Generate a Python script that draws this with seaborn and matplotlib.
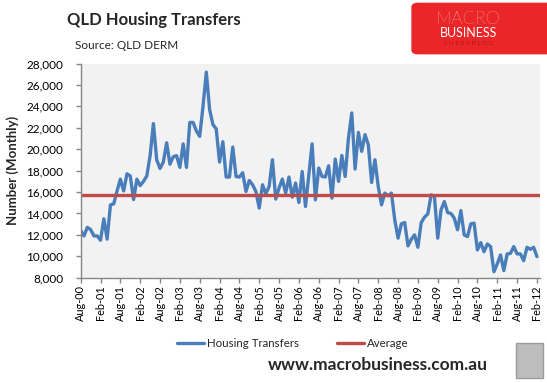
import numpy as np
import pandas as pd
import matplotlib
matplotlib.use('Agg')
import matplotlib.pyplot as plt
import seaborn as sns
from matplotlib.patches import Rectangle, FancyBboxPatch
from matplotlib.lines import Line2D

# Monthly housing transfers, Aug-00 .. Feb-12
transfers = [
    12400, 11900, 12700, 12500, 11900, 11900, 11500, 13500, 11600, 14800,
    14900, 16100, 17200, 16100, 17700, 17500, 15300, 17200, 16600, 17000,
    17500, 19400, 22400, 19000, 18200, 18800, 20600, 18600, 19300, 19400,
    18300, 20500, 18300, 22500, 22500, 21700, 21200, 24000, 27200, 23700,
    22300, 21900, 18800, 20700, 17400, 17400, 20200, 17450, 17400, 17800,
    16050, 17080, 16680, 16050, 14500, 16680, 15830, 16520, 19020, 15340,
    16370, 17210, 15900, 17400, 15520, 16840, 15020, 17920, 14650, 17600,
    20500, 15270, 18240, 17450, 17400, 18450, 15430, 19080, 17000, 19420,
    17450, 21050, 23390, 18150, 21570, 19800, 21360, 20420, 16890, 19020,
    16520, 14800, 15900, 15650, 15900, 13400, 11690, 13030, 13150, 10970,
    11590, 12000, 10840, 13150, 13650, 13960, 15740, 15600, 11690, 14340,
    15110, 14080, 14000, 13560, 12470, 14270, 12000, 11840, 13030, 13090,
    10590, 11280, 10430, 11150, 10900, 8560, 9280, 10120, 8660, 10220,
    10270, 10900, 10220, 10220, 9590, 10840, 10650, 10840, 9970,
]
average = 15700
tick_labels = ['Aug-00', 'Feb-01', 'Aug-01', 'Feb-02', 'Aug-02', 'Feb-03',
               'Aug-03', 'Feb-04', 'Aug-04', 'Feb-05', 'Aug-05', 'Feb-06',
               'Aug-06', 'Feb-07', 'Aug-07', 'Feb-08', 'Aug-08', 'Feb-09',
               'Aug-09', 'Feb-10', 'Aug-10', 'Feb-11', 'Aug-11', 'Feb-12']
y_ticks = [8000, 10000, 12000, 14000, 16000, 18000, 20000, 22000, 24000,
           26000, 28000]
series_names = ['Housing Transfers', 'Average']

BLUE = '#4A7EBB'
RED = '#BE4B48'
AXIS = '#868686'

sns.set_theme(style='white')
plt.rcParams['font.family'] = ['Lato', 'DejaVu Sans']

fig = plt.figure(figsize=(5.47, 3.83), dpi=100)
ax = fig.add_axes([0.1475, 0.275, 0.987 - 0.1475, 0.834 - 0.275])
ax.set_facecolor('#F2F2F2')

df = pd.DataFrame({'month': np.arange(len(transfers)), 'transfers': transfers})
sns.lineplot(data=df, x='month', y='transfers', ax=ax, color=BLUE,
             linewidth=2.4, legend=False)
ax.axhline(average, color=RED, linewidth=2.4)

ax.set_xlim(0, 138.9)
ax.set_ylim(8000, 28000)
ax.set_yticks(y_ticks)
ax.set_yticklabels([f'{v:,}' for v in y_ticks], fontsize=8.5)
ax.set_xticks(np.arange(0, len(transfers), 6))
ax.set_xticklabels(tick_labels, rotation=90, fontsize=7.8)
ax.set_xlabel('')
ax.set_ylabel('')
for s in ['top', 'right']:
    ax.spines[s].set_visible(False)
for s in ['left', 'bottom']:
    ax.spines[s].set_color(AXIS)
    ax.spines[s].set_linewidth(1.0)
ax.tick_params(axis='both', direction='out', length=3.5, width=1.0,
               color=AXIS, labelcolor='black')
ax.tick_params(axis='x', bottom=True, pad=2)
ax.tick_params(axis='y', left=True, pad=9)

fig.text(0.023, 0.5545, 'Number (Monthly)', rotation=90, fontweight='bold',
         fontsize=9.5, ha='center', va='center')

# Titles
fig.text(0.1225, 0.948, 'QLD Housing Transfers', fontweight='bold',
         fontsize=12, ha='left', va='center')
fig.text(0.137, 0.882, 'Source: QLD DERM', fontsize=8.5, ha='left',
         va='center')

# Legend
handles = [Line2D([], [], color=BLUE, lw=2.4), Line2D([], [], color=RED, lw=2.4)]
fig.legend(handles=handles, labels=series_names, loc='center',
           bbox_to_anchor=(0.536, 0.104), ncol=2, frameon=False, fontsize=8.3,
           handlelength=2.3, handletextpad=0.3, columnspacing=3.3)

fig.text(0.69, 0.047, 'www.macrobusiness.com.au', fontweight='bold',
         fontsize=12.5, ha='center', va='center')

# Logo
logo = FancyBboxPatch((0.752, 0.858), 0.26, 0.135, transform=fig.transFigure,
                      boxstyle='round,pad=0,rounding_size=0.012',
                      facecolor='#EA2628', edgecolor='none')
fig.patches.append(logo)
fig.text(0.856, 0.950, 'MACRO', color='white', fontsize=13,
         fontweight='light', ha='center', va='center')
fig.text(0.856, 0.914, 'BUSINESS', color='white', fontsize=9,
         ha='center', va='center')
fig.text(0.856, 0.886, 'S U P E R B L O G', color='#B3161A', fontsize=4.5,
         ha='center', va='center')

# Wolf picture placeholder
wolf = Rectangle((0.943, 0.013), 0.049, 0.091, transform=fig.transFigure,
                 facecolor='#BDBDBD', edgecolor='#9A9A9A', lw=1)
fig.patches.append(wolf)

fig.savefig('out.png', dpi=100)
